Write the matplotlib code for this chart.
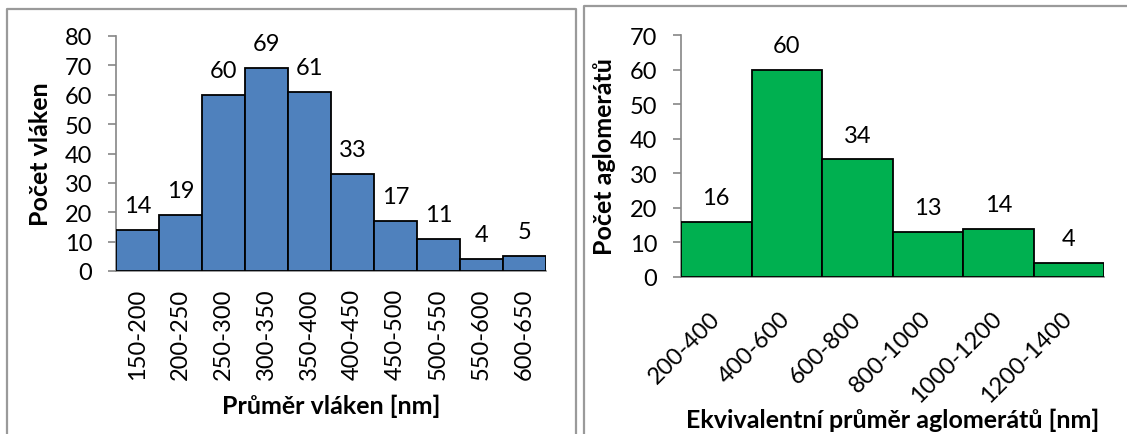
import matplotlib
matplotlib.use("Agg")
import matplotlib.pyplot as plt
from matplotlib.lines import Line2D

plt.rcParams['font.family'] = ['Lato', 'DejaVu Sans']

# Fibre diameter histogram
fibre_bins = ["150-200", "200-250", "250-300", "300-350", "350-400",
              "400-450", "450-500", "500-550", "550-600", "600-650"]
fibre_counts = [14, 19, 60, 69, 61, 33, 17, 11, 4, 5]
fibre_yticks = [0, 10, 20, 30, 40, 50, 60, 70, 80]

# Agglomerate equivalent diameter histogram
aggl_bins = ["200-400", "400-600", "600-800", "800-1000", "1000-1200", "1200-1400"]
aggl_counts = [16, 60, 34, 13, 14, 4]
aggl_yticks = [0, 10, 20, 30, 40, 50, 60, 70]

W, H = 1127, 435
fig = plt.figure(figsize=(W / 100, H / 100), dpi=100)

AXIS_GREY = "#868686"
FRAME_GREY = "#9a9a9a"
TICK_FS = 17
LABEL_FS = 18


def px_rect(x0, y_top, x1, y_bottom):
    return [x0 / W, 1 - y_bottom / H, (x1 - x0) / W, (y_bottom - y_top) / H]


def frame(points):
    xs = [p[0] / W for p in points]
    ys = [1 - p[1] / H for p in points]
    fig.add_artist(Line2D(xs, ys, color=FRAME_GREY, lw=1.6, transform=fig.transFigure))


def style_axes(ax, yticks):
    for s in ("top", "right"):
        ax.spines[s].set_visible(False)
    for s in ("left", "bottom"):
        ax.spines[s].set_color(AXIS_GREY)
        ax.spines[s].set_linewidth(1.2)
    ax.set_ylim(yticks[0], yticks[-1])
    ax.set_yticks(yticks)
    ax.tick_params(axis="y", direction="out", length=6, width=1.2, color=AXIS_GREY,
                   labelsize=TICK_FS, pad=11)
    ax.tick_params(axis="x", length=0, labelsize=TICK_FS)


def histogram(ax, bins, counts, color):
    pos = list(range(len(bins)))
    bars = ax.bar(pos, counts, width=1.0, color=color, edgecolor="black",
                  linewidth=1.3, zorder=3)
    ax.set_xlim(-0.5, len(bins) - 0.5)
    ax.bar_label(bars, labels=[str(c) for c in counts], padding=10, fontsize=TICK_FS)
    ax.set_xticks(pos)
    return pos


# Frames around each chart
frame([(7, 440), (7, 10), (576, 10), (576, 440)])
frame([(584, 440), (584, 7), (1130, 7)])

# Left chart
ax1 = fig.add_axes(px_rect(116, 37, 546, 272))
histogram(ax1, fibre_bins, fibre_counts, "#4F81BD")
style_axes(ax1, fibre_yticks)
ax1.set_xticklabels(fibre_bins, rotation=90, va="top", ha="center")
ax1.tick_params(axis="x", pad=12)
ax1.set_ylabel("Počet vláken", fontsize=LABEL_FS, fontweight="bold")
ax1.yaxis.set_label_coords((40 - 116) / 430, 0.5)
ax1.set_xlabel("Průměr vláken [nm]", fontsize=LABEL_FS, fontweight="bold")
ax1.xaxis.set_label_coords(0.5, -(406 - 272) / 235)

# Right chart
ax2 = fig.add_axes(px_rect(681, 36, 1104, 278))
histogram(ax2, aggl_bins, aggl_counts, "#00B050")
style_axes(ax2, aggl_yticks)
ax2.set_xticklabels(aggl_bins, rotation=45, ha="right", va="center",
                    rotation_mode="anchor")
ax2.tick_params(axis="x", pad=27)
ax2.set_ylabel("Počet aglomerátů", fontsize=LABEL_FS, fontweight="bold")
ax2.yaxis.set_label_coords((605 - 681) / 423, 0.5)
ax2.set_xlabel("Ekvivalentní průměr aglomerátů [nm]", fontsize=LABEL_FS,
               fontweight="bold")
ax2.xaxis.set_label_coords(0.5, -(420 - 278) / 242)

for ax in (ax1, ax2):
    ax.yaxis.label.set_va("center")
    ax.xaxis.label.set_va("center")

fig.savefig("out.png", dpi=100)
